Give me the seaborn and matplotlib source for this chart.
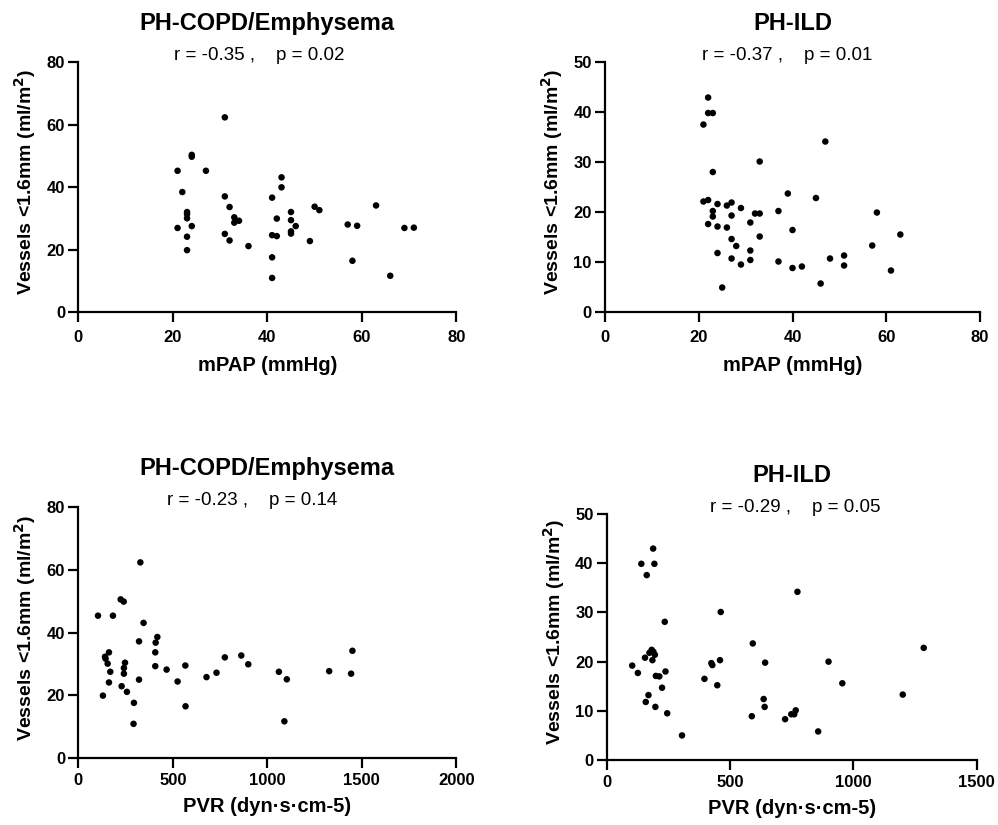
import pandas as pd
import seaborn as sns
import matplotlib.pyplot as plt

# Werte
copd_mpap_x = [31, 24, 24, 21, 27, 22, 31, 43, 43, 41, 32, 23, 23, 23, 33, 33, 34, 21, 24, 23, 23,
               31, 32, 36, 41, 42, 42, 41, 41, 45, 45, 46, 45, 45, 49, 50, 51, 57, 59, 58, 63, 66, 69, 71]
copd_mpap_y = [62.3, 50.3, 49.7, 45.2, 45.2, 38.4, 37.0, 43.1, 39.9, 36.6, 33.6, 32.0, 31.3, 30.0,
               30.3, 28.6, 29.2, 26.9, 27.5, 24.1, 19.8, 25.0, 22.9, 21.1, 24.6, 24.3, 29.9, 17.5,
               10.9, 32.0, 29.4, 27.5, 25.8, 25.1, 22.7, 33.7, 32.6, 28.0, 27.6, 16.4, 34.1, 11.6,
               26.9, 27.0]

ild_mpap_x = [22, 22, 23, 21, 23, 33, 47, 21, 22, 24, 26, 27, 29, 23, 23, 27, 32, 33, 22, 24, 26,
              31, 37, 39, 45, 58, 27, 28, 33, 40, 24, 27, 29, 31, 31, 37, 40, 42, 48, 51, 51, 57,
              63, 61, 25, 46]
ild_mpap_y = [42.9, 39.8, 39.8, 37.5, 28.0, 30.1, 34.1, 22.1, 22.4, 21.6, 21.3, 21.9, 20.8, 20.2,
              19.1, 19.3, 19.7, 19.7, 17.6, 17.1, 16.9, 17.9, 20.2, 23.7, 22.8, 19.9, 14.6, 13.2,
              15.1, 16.4, 11.8, 10.7, 9.5, 12.3, 10.4, 10.1, 8.8, 9.1, 10.7, 11.3, 9.3, 13.3, 15.5,
              8.3, 4.9, 5.7]

copd_pvr_x = [328, 224, 240, 104, 183, 345, 418, 409, 321, 407, 162, 141, 144, 155, 247, 241, 241,
              169, 407, 467, 566, 775, 862, 899, 162, 321, 229, 257, 130, 294, 292, 525, 678, 731,
              567, 1061, 1103, 1090, 1327, 1450, 1443]
copd_pvr_y = [62.4, 50.6, 49.9, 45.4, 45.4, 43.1, 38.6, 36.8, 37.2, 33.7, 33.7, 32.3, 31.7, 30.1,
              30.4, 28.7, 26.9, 27.5, 29.3, 28.2, 29.5, 32.1, 32.7, 29.9, 24.1, 25.0, 22.9, 21.1,
              19.9, 17.6, 10.9, 24.4, 25.8, 27.2, 16.5, 27.5, 25.1, 11.7, 27.7, 34.2, 26.9]

ild_pvr_x = [188, 140, 193, 162, 235, 462, 773, 592, 1285, 182, 189, 173, 195, 155, 185, 103, 126,
             238, 199, 213, 224, 169, 158, 197, 245, 305, 424, 428, 459, 396, 448, 642, 899, 955,
             1200, 636, 640, 588, 723, 748, 760, 766, 857]
ild_pvr_y = [43.0, 39.9, 39.9, 37.6, 28.1, 30.1, 34.2, 23.7, 22.8, 22.4, 22.0, 21.8, 21.4, 20.8,
             20.3, 19.2, 17.7, 18.0, 17.1, 17.0, 14.7, 13.2, 11.8, 10.8, 9.5, 5.0, 19.7, 19.3,
             20.3, 16.5, 15.2, 19.8, 20.0, 15.6, 13.3, 12.4, 10.8, 8.9, 8.3, 9.3, 9.3, 10.1, 5.8]

sns.set_style('ticks')
plt.rcParams['font.family'] = ['Liberation Sans', 'DejaVu Sans']
for key in ['text.color', 'axes.labelcolor', 'xtick.color', 'ytick.color']:
    plt.rcParams[key] = 'black'

fig = plt.figure(figsize=(9.98, 8.25), dpi=100)

ylabel = 'Vessels <1.6mm (ml/m$\\mathbf{^2}$)'

# (x, y, Titel, Statistik, x-Label, xlim, xticks, ylim, yticks, Position, x der Statistik, Abstand)
panels = [
    (copd_mpap_x, copd_mpap_y, 'PH-COPD/Emphysema', 'r = -0.35 ,    p = 0.02', 'mPAP (mmHg)',
     80, [0, 20, 40, 60, 80], 80, [0, 20, 40, 60, 80], [0.0785, 0.6218, 0.3788, 0.303], 0.479, 'top'),
    (ild_mpap_x, ild_mpap_y, 'PH-ILD', 'r = -0.37 ,    p = 0.01', 'mPAP (mmHg)',
     80, [0, 20, 40, 60, 80], 50, [0, 10, 20, 30, 40, 50], [0.6062, 0.6218, 0.3758, 0.303], 0.485, 'top'),
    (copd_pvr_x, copd_pvr_y, 'PH-COPD/Emphysema', 'r = -0.23 ,    p = 0.14', 'PVR (dyn·s·cm-5)',
     2000, [0, 500, 1000, 1500, 2000], 80, [0, 20, 40, 60, 80], [0.0785, 0.0812, 0.3788, 0.304], 0.46, 'bottom'),
    (ild_pvr_x, ild_pvr_y, 'PH-ILD', 'r = -0.29 ,    p = 0.05', 'PVR (dyn·s·cm-5)',
     1500, [0, 500, 1000, 1500], 50, [0, 10, 20, 30, 40, 50], [0.608, 0.0788, 0.3707, 0.298], 0.51, 'bottom'),
]

for x, y, title, stat, xlabel, xmax, xticks, ymax, yticks, pos, statx, row in panels:
    ax = fig.add_axes(pos)
    df = pd.DataFrame({'x': x, 'y': y})
    sns.scatterplot(data=df, x='x', y='y', ax=ax, color='black', s=22, edgecolor='none', clip_on=False)
    ax.set_xlim(0, xmax)
    ax.set_ylim(0, ymax)
    ax.set_xticks(xticks)
    ax.set_yticks(yticks)
    sns.despine(ax=ax)
    for side in ['left', 'bottom']:
        ax.spines[side].set_linewidth(1.6)
        ax.spines[side].set_color('black')
    ax.tick_params(axis='both', width=1.6, length=7, color='black', labelsize=12)
    ax.tick_params(axis='y', pad=2.5)
    ax.tick_params(axis='x', pad=6 if row == 'top' else 3.5)
    for lbl in ax.get_xticklabels() + ax.get_yticklabels():
        lbl.set_fontweight('bold')
    ax.set_xlabel(xlabel, fontsize=14.5, fontweight='bold')
    ax.set_ylabel(ylabel, fontsize=14, fontweight='bold', labelpad=6)
    h_px = pos[3] * 825
    ax.xaxis.set_label_coords(0.5, -(44 if row == 'top' else 39) / h_px)
    ax.yaxis.label.set_y(0.52)
    ax.annotate(title, xy=(0.5, 1), xycoords='axes fraction', xytext=(0, 28),
                textcoords='offset points', ha='center', va='center',
                fontsize=17, fontweight='bold')
    ax.annotate(stat, xy=(statx, 1), xycoords='axes fraction', xytext=(0, 4.5),
                textcoords='offset points', ha='center', va='center', fontsize=13.5)

fig.savefig('out.png', dpi=100)
